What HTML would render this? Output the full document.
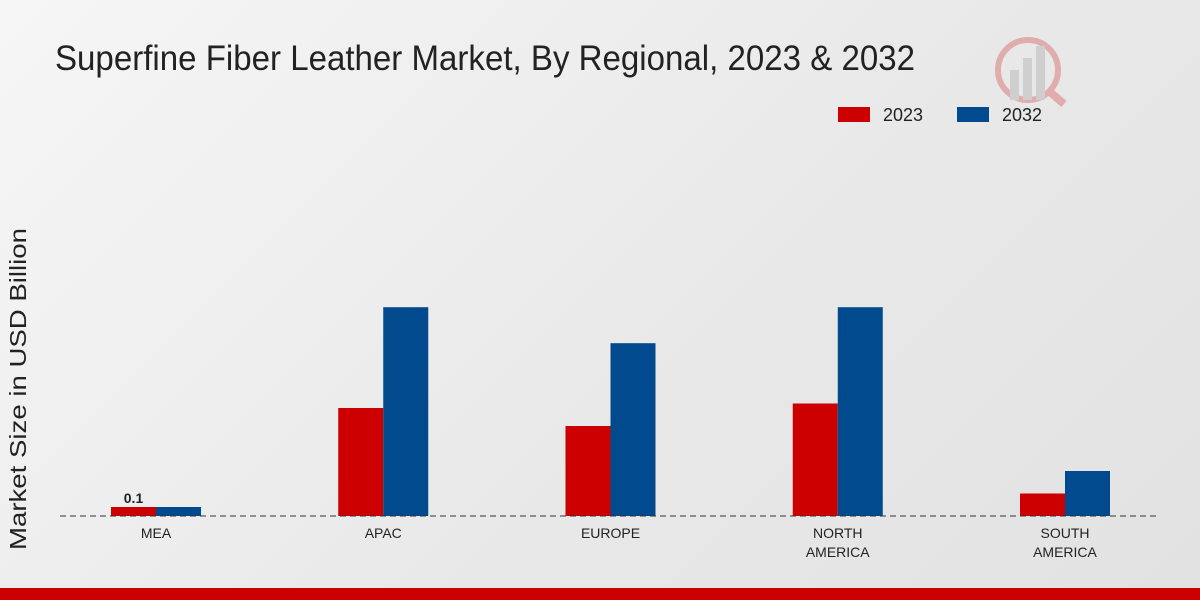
<!DOCTYPE html>
<html><head><meta charset="utf-8"><style>
html,body{margin:0;padding:0;width:1200px;height:600px;overflow:hidden}
body{background:linear-gradient(135deg,#f6f6f6 0%,#e8e8e8 60%,#e2e2e2 100%);font-family:"Liberation Sans","DejaVu Sans",sans-serif}
</style></head><body>
<svg id="chart" width="1200" height="600" xmlns="http://www.w3.org/2000/svg">
<text x="55" y="70" font-family="Liberation Sans, sans-serif" font-size="35" fill="#222" textLength="860" lengthAdjust="spacingAndGlyphs">Superfine Fiber Leather Market, By Regional, 2023 &amp; 2032</text>
<g>
<rect x="838" y="107" width="32" height="15" fill="#cc0000"/>
<text x="883" y="121" font-size="18" fill="#222" textLength="40" lengthAdjust="spacingAndGlyphs">2023</text>
<rect x="957" y="107" width="32" height="15" fill="#004a8d"/>
<text x="1002" y="121" font-size="18" fill="#222" textLength="40" lengthAdjust="spacingAndGlyphs">2032</text>
</g>
<text transform="translate(26,389) rotate(-90)" text-anchor="middle" font-size="23" fill="#222" textLength="322" lengthAdjust="spacingAndGlyphs">Market Size in USD Billion</text>
<g id="bars"></g>
<line x1="60" y1="516" x2="1160" y2="516" stroke="#333" stroke-width="1" stroke-dasharray="6,4"/>
<rect x="0" y="588" width="1200" height="12" fill="#cc0000"/>
<g opacity="0.25">
<circle cx="1028" cy="70" r="30" fill="none" stroke="#cc0000" stroke-width="6"/>
<rect x="1010" y="70" width="9" height="30" fill="#888"/><rect x="1023" y="58" width="9" height="42" fill="#888"/><rect x="1036" y="46" width="9" height="54" fill="#888"/>
<line x1="1050" y1="92" x2="1064" y2="104" stroke="#cc0000" stroke-width="8"/>
</g>
</svg>
<script>
const categories=["MEA","APAC","EUROPE","NORTH|AMERICA","SOUTH|AMERICA"];
const values2023=[0.1,1.2,1.0,1.25,0.25];
const values2032=[0.1,2.32,1.92,2.32,0.5];
const NS="http://www.w3.org/2000/svg";
const base=516, ppu=90, bw=45;
const xc=i=>156+i*227.25;
const yv=v=>base-v*ppu;
const g=document.getElementById('bars');
function mk(t,a){const e=document.createElementNS(NS,t);for(const k in a)e.setAttribute(k,a[k]);return e;}
categories.forEach((c,i)=>{
  const r1=mk('rect',{x:xc(i)-bw,y:yv(values2023[i]),width:bw,height:base-yv(values2023[i]),fill:'#cc0000'});
  
  
  g.appendChild(r1);
  const r2=mk('rect',{x:xc(i),y:yv(values2032[i]),width:bw,height:base-yv(values2032[i]),fill:'#004a8d'});
  
  
  g.appendChild(r2);
  c.split('|').forEach((line,j)=>{
    const t=mk('text',{x:xc(i),y:538+j*19,'text-anchor':'middle','font-size':14,fill:'#222'});
    t.textContent=line;
    
    
    g.appendChild(t);
  });
});
const lbl=mk('text',{x:xc(0)-bw/2,y:yv(values2023[0])-4,'text-anchor':'middle','font-size':14,'font-weight':'bold',fill:'#222'});
lbl.textContent=String(values2023[0]);


g.appendChild(lbl);
</script>
</body></html>
